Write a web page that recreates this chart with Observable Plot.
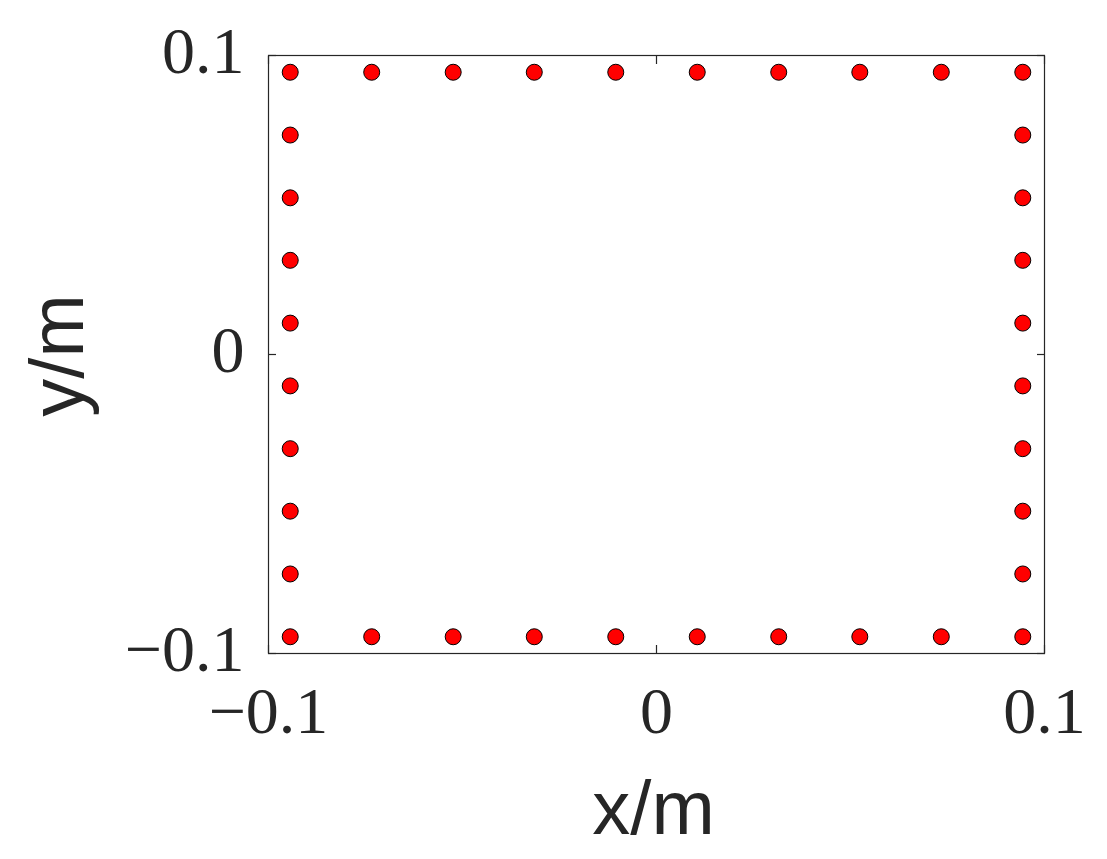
<!DOCTYPE html>
<html>
<head>
<meta charset="utf-8">
<script src="https://cdn.jsdelivr.net/npm/d3@7"></script>
<script src="https://cdn.jsdelivr.net/npm/@observablehq/plot@0.6"></script>
<style>
  html, body { margin: 0; padding: 0; background: #fff; }
  #chart svg { display: block; }
</style>
</head>
<body>
<div id="chart"></div>
<script>
// Sensor positions along the square boundary (metres)
const edgePositions = [-0.0944, -0.0734, -0.0524, -0.0315, -0.0105, 0.0105, 0.0315, 0.0524, 0.0734, 0.0944];
const edgeMin = -0.0944;
const edgeMax = 0.0944;
const tickValues = [-0.1, 0, 0.1];
const xLabel = "x/m";
const yLabel = "y/m";

// Build boundary points: top and bottom rows, left and right columns (no duplicates)
const points = [];
for (const v of edgePositions) {
  points.push({x: v, y: edgeMax});
  points.push({x: v, y: edgeMin});
}
for (const v of edgePositions.slice(1, -1)) {
  points.push({x: edgeMin, y: v});
  points.push({x: edgeMax, y: v});
}

const fmt = d => d === 0 ? "0" : (d < 0 ? "\u2212" + String(Math.abs(d)) : String(d));
const ink = "#262626";
const serif = "'Liberation Serif', 'DejaVu Serif', serif";
const sans = "'Liberation Sans', Arial, sans-serif";

const chart = Plot.plot({
  width: 1107,
  height: 859,
  marginLeft: 268,
  marginRight: 63,
  marginTop: 55,
  marginBottom: 206,
  style: {background: "#fff", color: ink},
  x: {domain: [-0.1, 0.1]},
  y: {domain: [-0.1, 0.1]},
  marks: [
    Plot.frame({stroke: ink, strokeWidth: 1.2}),
    // inward tick marks on all four sides
    Plot.axisX(tickValues, {anchor: "bottom", tickSize: -8, text: null, label: null, stroke: ink, strokeWidth: 1.2}),
    Plot.axisX(tickValues, {anchor: "top", tickSize: -8, text: null, label: null, stroke: ink, strokeWidth: 1.2}),
    Plot.axisY(tickValues, {anchor: "left", tickSize: -8, text: null, label: null, stroke: ink, strokeWidth: 1.2}),
    Plot.axisY(tickValues, {anchor: "right", tickSize: -8, text: null, label: null, stroke: ink, strokeWidth: 1.2}),
    // tick labels
    Plot.axisX(tickValues, {anchor: "bottom", tickSize: 0, tickPadding: 33, tickFormat: fmt, label: null,
      fontFamily: serif, fontSize: 66, fill: ink}),
    Plot.axisY(tickValues, {anchor: "left", tickSize: 0, tickPadding: 24, tickFormat: fmt, label: null,
      fontFamily: serif, fontSize: 66, fill: ink, dy: -4}),
    // axis titles
    Plot.text([xLabel], {frameAnchor: "bottom", text: d => d, textAnchor: "middle", lineAnchor: "middle", dy: 156, dx: -3,
      fontFamily: sans, fontSize: 76, fill: ink}),
    Plot.text([yLabel], {frameAnchor: "left", text: d => d, textAnchor: "middle", lineAnchor: "middle", rotate: -90, dx: -210, dy: 1,
      fontFamily: sans, fontSize: 76, fill: ink}),
    // points
    Plot.dot(points, {x: "x", y: "y", r: 8, fill: "#ff0000", stroke: "#000", strokeWidth: 1})
  ]
});
document.getElementById("chart").append(chart);
</script>
</body>
</html>
